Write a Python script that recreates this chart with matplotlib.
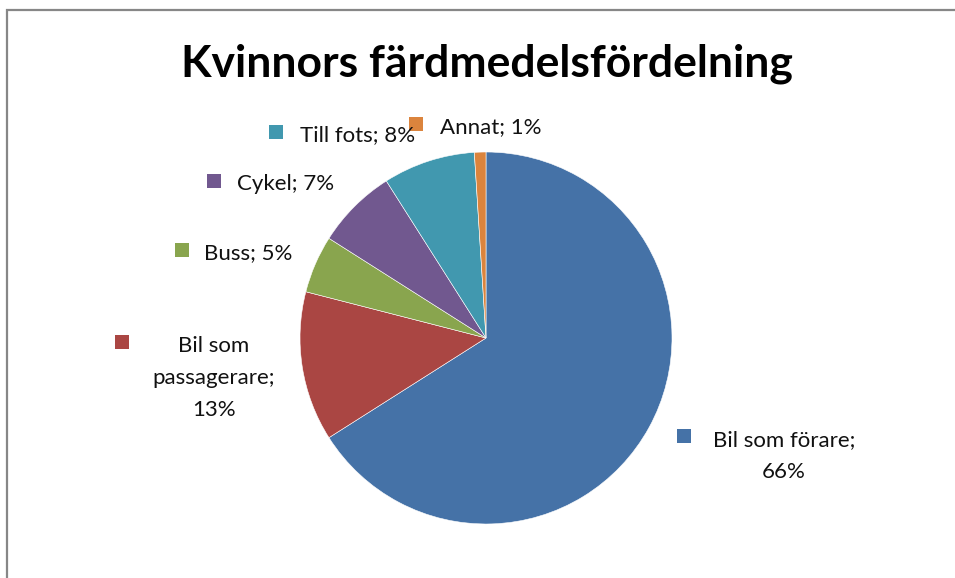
import matplotlib
matplotlib.use("Agg")
import matplotlib.pyplot as plt
from matplotlib.patches import Rectangle

plt.rcParams['font.family'] = ['Lato', 'DejaVu Sans']

# Travel mode shares for women (percent)
categories = ["Bil som förare", "Bil som passagerare", "Buss", "Cykel", "Till fots", "Annat"]
shares = [66, 13, 5, 7, 8, 1]
colors = ["#4572A7", "#AA4643", "#89A54E", "#71588F", "#4198AF", "#DB843D"]
title = "Kvinnors färdmedelsfördelning"

W, H = 955, 578
fig = plt.figure(figsize=(W / 100, H / 100), dpi=100)
ax = fig.add_axes([0, 0, 1, 1])
ax.set_xlim(0, W)
ax.set_ylim(0, H)
ax.set_aspect('equal')
ax.axis('off')

# chart area frame (runs off the right and bottom edges)
fig.patches.append(Rectangle((6.5 / W, -0.05), 1.2, 1 - 10 / H + 0.05,
                             transform=fig.transFigure, fill=False,
                             edgecolor="#878787", linewidth=1.6))

cx, cy, r = 486, H - 338, 186
ax.pie(shares, colors=colors, startangle=90, counterclock=False,
       center=(cx, cy), radius=r, frame=True,
       wedgeprops=dict(edgecolor="white", linewidth=0.4))
ax.set_xlim(0, W)
ax.set_ylim(0, H)
ax.axis('off')

fig.text(487 / W, 1 - 64 / H, title, ha='center', va='center',
         fontsize=32, fontweight='bold', color='black')

# data labels: (marker x, marker y, text x, text y, text, alignment)
label_specs = [
    (684, 436, 784, 456, f"{categories[0]};\n{shares[0]}%", 'center'),
    (122, 342, 214, 378, "Bil som\npassagerare;\n" + f"{shares[1]}%", 'center'),
    (182, 250, 204, 253, f"{categories[2]}; {shares[2]}%", 'left'),
    (214, 181, 237, 184, f"{categories[3]}; {shares[3]}%", 'left'),
    (276, 132, 300, 135, f"{categories[4]}; {shares[4]}%", 'left'),
    (416, 124, 440, 127, f"{categories[5]}; {shares[5]}%", 'left'),
]
for i, (mx, my, tx, ty, txt, ha) in enumerate(label_specs):
    ax.plot([mx], [H - my], marker='s', markersize=9.5, color=colors[i],
            markeredgewidth=0, linestyle='none')
    ax.text(tx, H - ty, txt, ha=ha, va='center', fontsize=16,
            color='#111111', linespacing=1.75, multialignment='center')

fig.savefig("out.png", dpi=100)
